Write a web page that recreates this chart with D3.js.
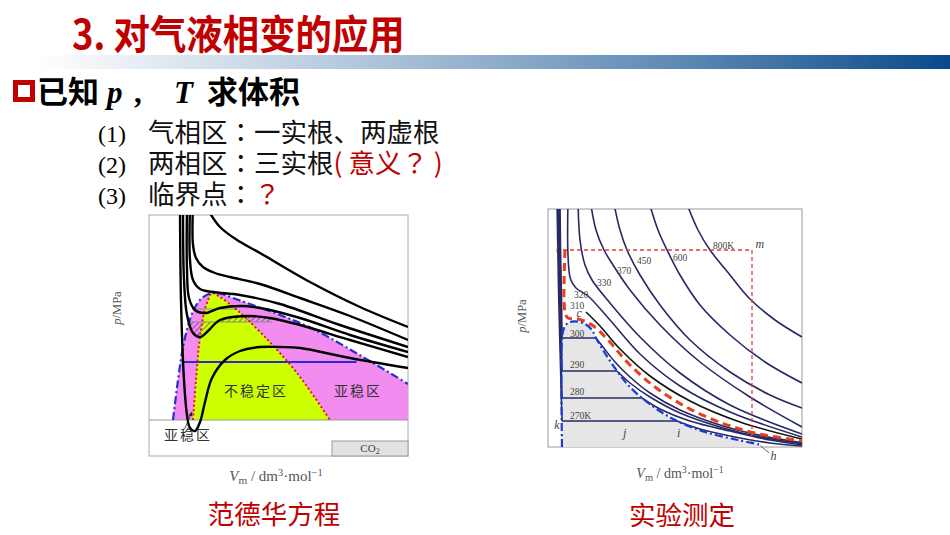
<!DOCTYPE html>
<html>
<head>
<meta charset="utf-8">
<script src="https://cdn.jsdelivr.net/npm/d3@7"></script>
<style>
  html, body { margin: 0; padding: 0; background: #fff; }
  svg { display: block; }
</style>
</head>
<body>
<svg id="slide" width="950" height="535"></svg>
<script>
// ---------- slide text ----------
const titleText = "3. 对气液相变的应用";
const rootLines = [
  { num: "(1)", text: "气相区：一实根、两虚根", note: "" },
  { num: "(2)", text: "两相区：三实根", note: "( 意义？ )" },
  { num: "(3)", text: "临界点：", note: "？" }
];
const captions = ["范德华方程", "实验测定"];

// ---------- left chart: van der Waals isotherms (V, p in arbitrary units) ----------
const vdwT1 = [[2.36,10.5],[2.84,9.65],[3.52,9.0],[4.44,8.35],[6.44,6.9],[8.44,5.65],[10.36,4.65]];
const vdwT2 = [[1.76,10.75],[1.76,8.75],[1.88,8.1],[2.16,7.65],[2.64,7.35],[3.24,7.15],[4.44,6.8],[6.04,6.1],[8.04,5.2],[10.36,4.0]];
const vdwT3 = [[1.64,10.75],[1.64,8.0],[1.76,7.0],[2.04,6.55],[2.56,6.4],[3.64,6.25],[5.24,5.8],[7.64,4.75],[10.36,3.65]];
const vdwT4 = [[1.52,10.75],[1.52,7.5],[1.6,6.1],[1.84,5.5],[2.24,5.35],[2.84,5.6],[3.64,5.7],[4.44,5.6],[6.04,5.1],[8.04,4.25],[10.36,3.4]];
const vdwT5 = [[1.36,10.75],[1.4,7.0],[1.52,5.25],[1.76,4.35],[2.04,4.15],[2.36,4.45],[2.84,5.0],[3.92,5.2],[4.84,5.1],[6.04,4.75],[8.04,4.0],[10.36,3.15]];
const vdwT6 = [[1.24,10.75],[1.28,6.0],[1.4,2.0],[1.52,0.25],[1.64,-0.4],[1.84,-0.55],[2.04,-0.1],[2.24,0.9],[2.52,2.1],[3.04,3.0],[3.64,3.45],[4.44,3.65],[5.24,3.65],[6.04,3.6],[8.04,3.1],[10.36,2.6]];
const vdwIsotherms = [vdwT1, vdwT2, vdwT3, vdwT4, vdwT5, vdwT6];

const vdwBinodal = [[0.96,0],[1.16,2.0],[1.36,3.65],[1.56,4.7],[1.8,5.55],[2.12,6.1],[2.52,6.35],[2.92,6.3],[3.36,6.1],[3.92,5.85],[5.24,5.25],[6.56,4.55],[8.56,3.15],[10.36,1.8]];
const vdwSpinodal = [[1.76,0],[1.88,2.0],[2.0,3.75],[2.16,5.1],[2.36,6.0],[2.52,6.35],[2.84,6.15],[3.52,5.5],[4.56,4.25],[5.92,2.35],[7.24,0]];

// equal-area lines: [p, V start, V end]
const vdwTie = [2.9, 1.32, 8.3];
const vdwGrayLines = [[5.55, 1.72, 3.52], [4.9, 1.64, 4.92]];

// ---------- right chart: measured CO2 isotherms (V, p in arbitrary units) ----------
const expSubcritical = [
  { t: "270K", liquid: [[0.36,12.4],[0.42,8],[0.5,4],[0.56,1.3]], gas: [[5.16,1.3],[6.08,0.9],[7.68,0.45],[8.88,0.2],[10.16,0.05]] },
  { t: "280",  liquid: [[0.4,12.4],[0.45,8.5],[0.51,5],[0.56,2.45]], gas: [[3.76,2.45],[4.48,1.9],[5.68,1.3],[7.28,0.8],[8.88,0.35],[10.16,0.1]] },
  { t: "290",  liquid: [[0.44,12.4],[0.48,9],[0.53,6],[0.56,3.8]], gas: [[2.76,3.8],[3.28,3.2],[4.08,2.5],[5.28,1.7],[6.88,1.0],[8.48,0.5],[10.16,0.16]] },
  { t: "300",  liquid: [[0.48,12.4],[0.5,10],[0.54,7.5],[0.56,5.45]], gas: [[1.92,5.45],[2.2,5.0],[2.68,4.25],[3.28,3.5],[4.08,2.7],[5.28,1.85],[6.88,1.1],[8.48,0.58],[10.16,0.22]] }
];
const exp310 = [[1.52,6.75],[2.08,6.05],[2.88,4.9],[4.08,3.55],[5.68,2.3],[7.68,1.25],[10.16,0.4]];
const exp320 = [[0.8,12.4],[0.8,9.6],[0.9,8.4],[1.12,7.95],[1.6,7.55],[2.48,6.35],[3.68,4.65],[5.28,3.05],[7.28,1.75],[10.16,0.5]];
const exp330 = [[1.2,12.4],[1.28,10.35],[1.48,9.1],[1.76,8.35],[2.48,7.2],[3.68,5.5],[5.28,3.7],[7.28,2.1],[10.16,0.65]];
const exp370 = [[1.68,12.4],[1.92,10.85],[2.24,9.85],[2.6,9.1],[3.28,7.85],[4.48,6.1],[6.08,4.25],[8.08,2.5],[10.16,1.0]];
const exp450 = [[2.6,12.4],[2.88,10.85],[3.16,9.85],[3.68,8.6],[4.48,7.1],[5.68,5.35],[7.28,3.75],[8.88,2.6],[10.16,1.95]];
const exp600 = [[4.0,12.4],[4.4,10.85],[4.76,9.85],[5.28,8.6],[6.08,7.1],[7.28,5.6],[8.68,4.25],[10.16,3.2]];
const exp800 = [[5.48,12.4],[6.0,10.85],[6.48,9.85],[7.28,8.6],[8.08,7.4],[9.08,6.35],[10.16,5.5]];
const expSupercritical = [exp320, exp330, exp370, exp450, exp600, exp800];

const expCritical = [[0.68,9.85],[0.64,7.35],[0.7,6.65],[0.8,6.45],[1.2,6.4],[1.76,6.1],[2.4,5.35],[3.2,4.2],[4.28,3.0],[5.6,1.95],[6.96,1.2],[8.28,0.7],[10.16,0.3]];
const expBinodal = [[0.56,0],[0.56,5.35],[0.64,5.95],[0.8,6.2],[1.08,6.28],[1.48,6.15],[1.76,5.85],[1.92,5.45],[2.3,4.65],[2.76,3.8],[3.2,3.1],[3.76,2.45],[4.4,1.85],[5.16,1.3],[6.28,0.75],[7.6,0.35],[8.56,0.1]];
// path l -> m -> bottom
const expPath = [[0.6,9.85],[8.16,9.85],[8.16,0.15]];

const expTempLabels = [
  ["800K",6.6,9.9],["600",5.0,9.3],["450",3.56,9.15],["370",2.76,8.65],["330",1.96,8.05],
  ["320",1.04,7.45],["310",0.88,6.9],["300",0.88,5.5],["290",0.88,3.95],["280",0.88,2.6],["270K",0.88,1.4]
];
const expPointLabels = [["l",0.44,9.75,"end"],["m",8.3,9.95,"start"],["c",1.14,6.48,"start"],["k",0.46,0.9,"end"],["j",3.0,0.5,"start"],["i",5.16,0.5,"start"],["h",8.9,-0.65,"start"]];

// ---------- drawing ----------
const svg = d3.select("#slide");
const defs = svg.append("defs");
const cjk = "'Noto Sans CJK SC', 'Noto Sans', sans-serif";
const cjkTC = "'Noto Sans CJK TC', 'Noto Sans CJK SC', sans-serif";
const serif = "'Liberation Serif', 'DejaVu Serif', serif";

// header bar
const grad = defs.append("linearGradient").attr("id", "barGrad").attr("x1", "0%").attr("x2", "100%");
grad.append("stop").attr("offset", "0%").attr("stop-color", "#ffffff");
grad.append("stop").attr("offset", "35%").attr("stop-color", "#b3c7dc");
grad.append("stop").attr("offset", "70%").attr("stop-color", "#5f8ab5");
grad.append("stop").attr("offset", "100%").attr("stop-color", "#0a4a8a");
svg.append("rect").attr("x", 36).attr("y", 55).attr("width", 914).attr("height", 14).attr("fill", "url(#barGrad)");

svg.append("text")
  .attr("transform", "translate(72,49) scale(0.91,1)")
  .attr("font-family", cjk).attr("font-weight", 700).attr("font-size", 40)
  .attr("fill", "#c00000")
  .text(titleText);

// bullet heading
svg.append("rect").attr("x", 15.5).attr("y", 82.5).attr("width", 17).attr("height", 17)
  .attr("fill", "#fff").attr("stroke", "#c00000").attr("stroke-width", 5);
const head = svg.append("g").attr("font-size", 31).attr("font-weight", 700).attr("fill", "#000");
head.append("text").attr("x", 37).attr("y", 103).attr("font-family", cjk).text("已知");
head.append("text").attr("x", 107).attr("y", 103).attr("font-family", serif).attr("font-style", "italic").text("p");
head.append("text").attr("x", 134).attr("y", 103).attr("font-family", serif).text(",");
head.append("text").attr("x", 174).attr("y", 103).attr("font-family", serif).attr("font-style", "italic").text("T");
head.append("text").attr("x", 207).attr("y", 103).attr("font-family", cjk).text("求体积");

// centred full-width punctuation comes from the TC face
function addRuns(t, str, color) {
  str.split(/([：？])/).filter(s => s.length).forEach(s => {
    const sp = t.append("tspan").text(s);
    if (color) sp.attr("fill", color);
    if (s === "：" || s === "？") sp.attr("font-family", cjkTC);
  });
}
rootLines.forEach((d, i) => {
  const y = 142 + i * 31;
  svg.append("text").attr("x", 98).attr("y", y)
    .attr("font-family", serif).attr("font-size", 24).text(d.num);
  const t = svg.append("text").attr("x", 148).attr("y", y)
    .attr("font-family", cjk).attr("font-size", 26.5).attr("fill", "#111");
  addRuns(t, d.text, null);
  addRuns(t, d.note, "#c00000");
});

// captions
svg.append("text").attr("x", 274).attr("y", 524).attr("text-anchor", "middle")
  .attr("font-family", cjk).attr("font-size", 26.5).attr("fill", "#c00000").text(captions[0]);
svg.append("text").attr("x", 682).attr("y", 525).attr("text-anchor", "middle")
  .attr("font-family", cjk).attr("font-size", 26.5).attr("fill", "#c00000").text(captions[1]);

// axis labels shared
function yLabel(x, y) {
  const t = svg.append("text")
    .attr("transform", "translate(" + x + "," + y + ") rotate(-90)")
    .attr("text-anchor", "middle").attr("font-family", serif).attr("font-size", 12.5).attr("fill", "#555");
  t.append("tspan").attr("font-style", "italic").text("p");
  t.append("tspan").text("/MPa");
}
function xLabel(x, y, size) {
  const t = svg.append("text").attr("x", x).attr("y", y)
    .attr("text-anchor", "middle").attr("font-family", serif).attr("font-size", size).attr("fill", "#555");
  t.append("tspan").attr("font-style", "italic").text("V");
  t.append("tspan").attr("font-size", size * 0.75).attr("dy", 3).text("m");
  t.append("tspan").attr("dy", -3).text(" / dm");
  t.append("tspan").attr("font-size", size * 0.7).attr("dy", -5).text("3");
  t.append("tspan").attr("dy", 5).text("·mol");
  t.append("tspan").attr("font-size", size * 0.7).attr("dy", -5).text("−1");
}

// ================= left chart =================
const vdwX = d3.scaleLinear().domain([0, 10.36]).range([149, 408]);
const vdwY = d3.scaleLinear().domain([-1.8, 10.25]).range([456, 215]);
const vdwLine = d3.line().x(d => vdwX(d[0])).y(d => vdwY(d[1])).curve(d3.curveCatmullRom.alpha(0.5));
const vdwArea = d3.area().x(d => vdwX(d[0])).y0(vdwY(0)).y1(d => vdwY(d[1])).curve(d3.curveCatmullRom.alpha(0.5));

defs.append("clipPath").attr("id", "clipL").append("rect")
  .attr("x", vdwX(0)).attr("y", vdwY(10.25))
  .attr("width", vdwX(10.36) - vdwX(0)).attr("height", vdwY(-1.8) - vdwY(10.25));

svg.append("rect")
  .attr("x", vdwX(0)).attr("y", vdwY(10.25))
  .attr("width", vdwX(10.36) - vdwX(0)).attr("height", vdwY(-1.8) - vdwY(10.25))
  .attr("fill", "#fff").attr("stroke", "#aaa").attr("stroke-width", 1);

const gL = svg.append("g").attr("clip-path", "url(#clipL)");

// metastable (magenta) and unstable (yellow-green) regions
gL.append("path").datum(vdwBinodal).attr("d", vdwArea).attr("fill", "#f28cf0");
gL.append("path").datum(vdwSpinodal).attr("d", vdwArea).attr("fill", "#ccff00");

// p = 0 line
gL.append("line")
  .attr("x1", vdwX(0)).attr("x2", vdwX(10.36)).attr("y1", vdwY(0)).attr("y2", vdwY(0))
  .attr("stroke", "#999").attr("stroke-width", 1);

// hatched equal areas
const hatch = defs.append("pattern").attr("id", "hatch").attr("patternUnits", "userSpaceOnUse")
  .attr("width", 4).attr("height", 4).attr("patternTransform", "rotate(45)");
hatch.append("line").attr("x1", 0).attr("y1", 0).attr("x2", 0).attr("y2", 4)
  .attr("stroke", "#4a2d6a").attr("stroke-width", 1.4).attr("stroke-opacity", 0.85);
defs.append("clipPath").attr("id", "clipHatch").append("rect")
  .attr("x", vdwX(vdwGrayLines[1][1])).attr("y", vdwY(10))
  .attr("width", vdwX(vdwGrayLines[1][2]) - vdwX(vdwGrayLines[1][1])).attr("height", vdwY(0) - vdwY(10));
gL.append("g").attr("clip-path", "url(#clipHatch)")
  .append("path").datum(vdwT5.filter(d => d[1] < 8))
  .attr("d", d3.area().x(d => vdwX(d[0])).y0(vdwY(vdwGrayLines[1][0])).y1(d => vdwY(d[1])).curve(d3.curveCatmullRom.alpha(0.5)))
  .attr("fill", "url(#hatch)");

gL.selectAll(".gray").data(vdwGrayLines).enter().append("line")
  .attr("x1", d => vdwX(d[1])).attr("x2", d => vdwX(d[2]))
  .attr("y1", d => vdwY(d[0])).attr("y2", d => vdwY(d[0]))
  .attr("stroke", "#8a8a8a").attr("stroke-width", 1);

// blue equal-area line of lowest isotherm
gL.append("line")
  .attr("x1", vdwX(vdwTie[1])).attr("x2", vdwX(vdwTie[2]))
  .attr("y1", vdwY(vdwTie[0])).attr("y2", vdwY(vdwTie[0]))
  .attr("stroke", "#2b2bd0").attr("stroke-width", 2);

// spinodal and binodal
gL.append("path").datum(vdwSpinodal).attr("d", vdwLine)
  .attr("fill", "none").attr("stroke", "#e01818").attr("stroke-width", 2).attr("stroke-dasharray", "2,2.5");
gL.append("path").datum(vdwBinodal).attr("d", vdwLine)
  .attr("fill", "none").attr("stroke", "#2233cc").attr("stroke-width", 2.2).attr("stroke-dasharray", "8,3,2,3");

// isotherms
gL.selectAll(".iso").data(vdwIsotherms).enter().append("path")
  .attr("d", vdwLine).attr("fill", "none").attr("stroke", "#000").attr("stroke-width", 2.4);

// labels
const lblL = svg.append("g").attr("font-family", cjk).attr("font-size", 14).attr("fill", "#333")
  .attr("letter-spacing", 2).attr("text-anchor", "middle");
lblL.append("text").attr("x", vdwX(4.28)).attr("y", vdwY(1.2)).text("不稳定区");
lblL.append("text").attr("x", vdwX(8.36)).attr("y", vdwY(1.2)).text("亚稳区");
lblL.append("text").attr("x", vdwX(1.56)).attr("y", vdwY(-1.0)).text("亚稳区");

defs.append("marker").attr("id", "arrow").attr("viewBox", "0 0 10 10").attr("refX", 9).attr("refY", 5)
  .attr("markerWidth", 6).attr("markerHeight", 6).attr("orient", "auto")
  .append("path").attr("d", "M0,1 L10,5 L0,9 z").attr("fill", "#222");
svg.append("line")
  .attr("x1", vdwX(1.44)).attr("y1", vdwY(-0.4)).attr("x2", vdwX(1.72)).attr("y2", vdwY(0.4))
  .attr("stroke", "#222").attr("stroke-width", 0.8).attr("marker-end", "url(#arrow)");

// CO2 tag
svg.append("rect")
  .attr("x", vdwX(7.32)).attr("y", vdwY(-1.05))
  .attr("width", vdwX(10.36) - vdwX(7.32)).attr("height", vdwY(-1.8) - vdwY(-1.05))
  .attr("fill", "#e2e2e2").attr("stroke", "#999").attr("stroke-width", 1);
const co2 = svg.append("text").attr("x", vdwX(8.84)).attr("y", vdwY(-1.6))
  .attr("text-anchor", "middle").attr("font-family", serif).attr("font-size", 11).attr("fill", "#444");
co2.append("tspan").text("CO");
co2.append("tspan").attr("font-size", 8).attr("dy", 2).text("2");

yLabel(121, 308);
xLabel(276, 481, 15);

// ================= right chart =================
const expX = d3.scaleLinear().domain([0, 10.16]).range([548, 802]);
const expY = d3.scaleLinear().domain([0, 11.9]).range([447, 209]);
const expLine = d3.line().x(d => expX(d[0])).y(d => expY(d[1])).curve(d3.curveCatmullRom.alpha(0.5));
const expArea = d3.area().x(d => expX(d[0])).y0(expY(0)).y1(d => expY(d[1])).curve(d3.curveCatmullRom.alpha(0.5));
const navy = "#272a64";

defs.append("clipPath").attr("id", "clipR").append("rect")
  .attr("x", expX(0)).attr("y", expY(11.9))
  .attr("width", expX(10.16) - expX(0)).attr("height", expY(0) - expY(11.9));

svg.append("rect")
  .attr("x", expX(0)).attr("y", expY(11.9))
  .attr("width", expX(10.16) - expX(0)).attr("height", expY(0) - expY(11.9))
  .attr("fill", "#fff").attr("stroke", "#999").attr("stroke-width", 1);

const gR = svg.append("g").attr("clip-path", "url(#clipR)");

// two-phase dome
gR.append("path").datum(expBinodal).attr("d", expArea).attr("fill", "#e6e6e6");

// subcritical isotherms: liquid branch, tie line, gas branch
expSubcritical.forEach(iso => {
  gR.append("path").datum(iso.liquid).attr("d", expLine)
    .attr("fill", "none").attr("stroke", navy).attr("stroke-width", 1.6);
  const a = iso.liquid[iso.liquid.length - 1], b = iso.gas[0];
  gR.append("line")
    .attr("x1", expX(a[0])).attr("y1", expY(a[1])).attr("x2", expX(b[0])).attr("y2", expY(b[1]))
    .attr("stroke", navy).attr("stroke-width", 1.6);
  gR.append("path").datum(iso.gas).attr("d", expLine)
    .attr("fill", "none").attr("stroke", navy).attr("stroke-width", 1.6);
});

// supercritical isotherms
gR.selectAll(".sup").data(expSupercritical).enter().append("path")
  .attr("d", expLine).attr("fill", "none").attr("stroke", navy).attr("stroke-width", 1.6);
gR.append("path").datum(exp310).attr("d", expLine)
  .attr("fill", "none").attr("stroke", "#111").attr("stroke-width", 1.6);

// l-m path
gR.append("path").datum(expPath).attr("d", d3.line().x(d => expX(d[0])).y(d => expY(d[1])))
  .attr("fill", "none").attr("stroke", "#e0403a").attr("stroke-width", 1.3).attr("stroke-dasharray", "4,3");

// critical isotherm
gR.append("path").datum(expCritical).attr("d", expLine)
  .attr("fill", "none").attr("stroke", "#e8401c").attr("stroke-width", 3).attr("stroke-dasharray", "8,5");

// coexistence curve
gR.append("path").datum(expBinodal).attr("d", expLine)
  .attr("fill", "none").attr("stroke", "#1a3ad8").attr("stroke-width", 2.2).attr("stroke-dasharray", "8,3,2,3");

// labels
svg.append("g").attr("font-family", serif).attr("font-size", 9.5).attr("fill", "#444")
  .selectAll("text").data(expTempLabels).enter().append("text")
  .attr("x", d => expX(d[1])).attr("y", d => expY(d[2])).text(d => d[0]);
svg.append("g").attr("font-family", serif).attr("font-size", 12).attr("font-style", "italic").attr("fill", "#444")
  .selectAll("text").data(expPointLabels).enter().append("text")
  .attr("x", d => expX(d[1])).attr("y", d => expY(d[2])).attr("text-anchor", d => d[3]).text(d => d[0]);
svg.append("line")
  .attr("x1", expX(8.5)).attr("y1", expY(0.05)).attr("x2", expX(8.85)).attr("y2", expY(-0.3))
  .attr("stroke", "#444").attr("stroke-width", 0.8);

yLabel(526, 316);
xLabel(680, 478, 14);
</script>
</body>
</html>
